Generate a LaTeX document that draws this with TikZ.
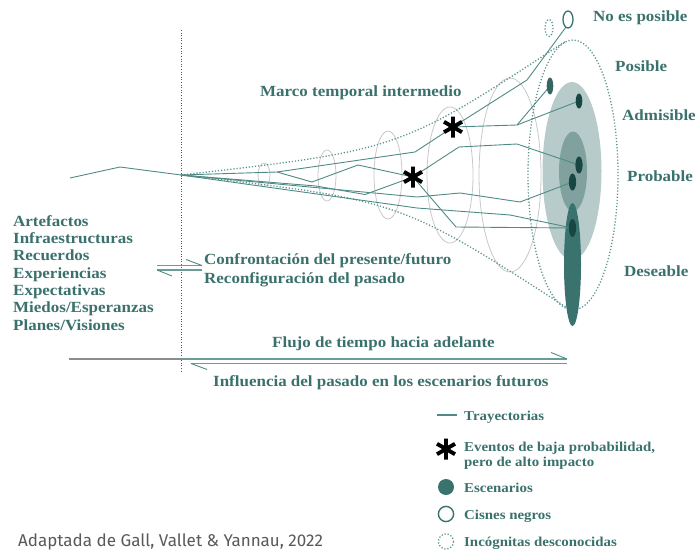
\documentclass[tikz,border=0pt]{standalone}
\usepackage{fontspec}
\setmainfont{Liberation Serif}
\newfontfamily\labfont[FakeStretch=1.095]{Liberation Serif}
\newfontfamily\srcfont{Fira Sans}
\usetikzlibrary{arrows.meta}
\definecolor{tealtext}{RGB}{58,113,109}
\definecolor{tealline}{RGB}{80,138,134}
\definecolor{tealdot}{RGB}{92,148,144}
\definecolor{lightfill}{RGB}{183,204,202}
\definecolor{midfill}{RGB}{128,161,158}
\definecolor{tealfill}{RGB}{58,114,110}
\definecolor{darkdot}{RGB}{24,70,66}
\definecolor{grayell}{RGB}{200,200,200}
\tikzset{
  lab/.style={text=tealtext, font=\labfont\bfseries\fontsize{15.5}{17.35}\selectfont, inner sep=0pt, anchor=base west, align=left},
  leg/.style={lab, font=\labfont\bfseries\fontsize{13.6}{15}\selectfont},
  traj/.style={draw=tealline, line width=0.9pt, line join=round},
  dotl/.style={draw=tealdot, line width=1.3pt, dash pattern=on 1.2pt off 1.9pt},
  vline/.style={draw=black!65, line width=0.7pt, dash pattern=on 1pt off 1.6pt},
  crosssec/.style={draw=grayell, line width=0.8pt},
  arrl/.style={draw=tealline!85, line width=1.4pt},
  barb/.style={draw=tealline, line width=0.9pt},
  astpic/.pic={\draw[line width=3.9pt, black] (0,-10.5)--(0,10.5) (-9,-5.2)--(9,5.2) (-9,5.2)--(9,-5.2);}
}
\begin{document}
\begin{tikzpicture}[x=1pt,y=-1pt]
\useasboundingbox (0,0) rectangle (696,551);

% present marker
\coordinate (vtop) at (181,30);
\coordinate (vbot) at (181,371);
\draw[vline] (vtop) -- (vbot);

% cross sections
\draw[crosssec] (264,175) ellipse [x radius=6, y radius=12];
\draw[crosssec] (327,175.5) ellipse [x radius=9, y radius=25.5];
\draw[crosssec] (388,175) ellipse [x radius=14, y radius=44];
\draw[crosssec] (450,175) ellipse [x radius=23, y radius=68];
\draw[crosssec] (510,175) ellipse [x radius=31, y radius=97];

% cone
\coordinate (o) at (181,175);
\coordinate (ctop) at (566,41);
\coordinate (cbot) at (569,309);
\draw[dotl] (o) .. controls (400,150) .. (ctop);
\draw[dotl] (o) .. controls (400,200) .. (cbot);
\draw[dotl] (573,175) ellipse [x radius=45, y radius=135];

% scenario zones
\fill[lightfill] (572,171) ellipse [x radius=29.5, y radius=89];
\fill[midfill] (573,171.5) ellipse [x radius=14, y radius=40];
\fill[tealfill] (572.5,264.5) ellipse [x radius=8.5, y radius=61.5];

% points
\coordinate (pA) at (70,178);
\coordinate (pB) at (120,167);
\coordinate (k1) at (277,172);
\coordinate (k2) at (415,152);
\coordinate (s1) at (453,127);
\coordinate (k3) at (527,80);
\coordinate (swan) at (566,27);
\coordinate (k4) at (517,125);
\coordinate (da) at (550,86);
\coordinate (db) at (579,101);
\coordinate (k5) at (312,182);
\coordinate (k6) at (358,165);
\coordinate (s2) at (413,177);
\coordinate (k7) at (316,186);
\coordinate (k8) at (365,194.5);
\coordinate (k9) at (459,147);
\coordinate (k10) at (517,144);
\coordinate (dc) at (579,165);
\coordinate (k11) at (456,227);
\coordinate (de) at (572.5,228);
\coordinate (k12) at (417,197);
\coordinate (k13) at (460,193);
\coordinate (k14) at (520,202);
\coordinate (dd) at (572.5,182);
\coordinate (k15) at (417,208);
\coordinate (k16) at (510,215);

% trajectories
\draw[traj] (pA) -- (pB) -- (o);
\draw[traj] (o) -- (k1) -- (k2) -- (s1) -- (k3) -- (swan);
\draw[traj] (s1) -- (k4) -- (da);
\draw[traj] (k4) -- (db);
\draw[traj] (k1) -- (k5) -- (k6) -- (s2);
\draw[traj] (o) -- (k7) -- (k8) -- (s2);
\draw[traj] (s2) -- (k9) -- (k10) -- (dc);
\draw[traj] (s2) -- (k11) -- (de);
\draw[traj] (o) -- (k12) -- (k13) -- (k14) -- (dd);
\draw[traj] (o) -- (k15) -- (k16) -- (de);

% scenarios
\fill[tealfill!90!black] (da) ellipse [x radius=3.3, y radius=8.5];
\fill[darkdot] (db) ellipse [x radius=3.3, y radius=7.5];
\fill[darkdot] (dc) ellipse [x radius=3.6, y radius=8.5];
\fill[darkdot] (dd) ellipse [x radius=3.6, y radius=8.5];
\fill[darkdot] (de) ellipse [x radius=3.6, y radius=9];

% black swan and unknown unknown
\draw[draw=tealfill, line width=1.3pt] (568,19.5) ellipse [x radius=5, y radius=8.5];
\draw[dotl] (549,28) ellipse [x radius=4, y radius=8.5];

% events
\pic at (s1) {astpic};
\pic at (s2) {astpic};

% labels
\node[lab] (noes) at (593,22) {No es posible};
\node[lab] (posible) at (615,71) {Posible};
\node[lab] (admis) at (622,120.7) {Admisible};
\node[lab] (prob) at (627,181.7) {Probable};
\node[lab] (des) at (624,276) {Deseable};
\node[lab] (marco) at (260,96.5) {Marco temporal intermedio};

\node[lab] (l1) at (13,226) {Artefactos};
\node[lab] (l2) at (13,243.35) {Infraestructuras};
\node[lab] (l3) at (13,260.7) {Recuerdos};
\node[lab] (l4) at (13,278.05) {Experiencias};
\node[lab] (l5) at (13,295.4) {Expectativas};
\node[lab] (l6) at (13,312.75) {Miedos/Esperanzas};
\node[lab] (l7) at (13,330.1) {Planes/Visiones};

\node[lab] (conf) at (204,264) {Confrontación del presente/futuro};
\node[lab] (reco) at (204,283.7) {Reconfiguración del pasado};

% confrontation harpoons
\coordinate (h1a) at (157,265.5);
\coordinate (h1b) at (202,265.5);
\coordinate (h1c) at (186,259.5);
\coordinate (h2a) at (202,270);
\coordinate (h2b) at (157,270);
\coordinate (h2c) at (172,276);
\draw[arrl] (h1a) -- (h1b);
\draw[barb] (h1b) -- (h1c);
\draw[arrl] (h2a) -- (h2b);
\draw[barb] (h2b) -- (h2c);

% time arrows
\node[lab] (flujo) at (272,347.3) {Flujo de tiempo hacia adelante};
\node[lab] (infl) at (213,386.7) {Influencia del pasado en los escenarios futuros};
\coordinate (f0) at (69,359);
\coordinate (f1) at (181,359);
\coordinate (f2) at (567,359);
\coordinate (f3) at (551,352.5);
\coordinate (g0) at (567,363.5);
\coordinate (g1) at (191,363.5);
\coordinate (g2) at (207,369.5);
\draw[draw=black!45, line width=1.4pt] (f0) -- (f1);
\draw[arrl] (f1) -- (f2);
\draw[barb] (f2) -- (f3);
\draw[arrl] (g0) -- (g1);
\draw[barb] (g1) -- (g2);

% legend
\coordinate (lg1a) at (437,415);
\coordinate (lg1b) at (457,415);
\draw[traj, line width=1.2pt] (lg1a) -- (lg1b);
\node[leg] (lt1) at (464,420) {Trayectorias};
\pic at (446,449) {astpic};
\node[leg] (lt2) at (464,451.7) {Eventos de baja probabilidad,};
\node[leg] (lt2b) at (464,466) {pero de alto impacto};
\fill[tealfill] (446,487) circle [radius=8];
\node[leg] (lt3) at (464,492.3) {Escenarios};
\draw[draw=tealfill, line width=1.4pt] (446,514) circle [radius=7.6];
\node[leg] (lt4) at (464,519.3) {Cisnes negros};
\draw[dotl] (446,541.5) circle [radius=7.6];
\node[leg] (lt5) at (464,546) {Incógnitas desconocidas};

% source
\node[text=black!65, font=\srcfont\fontsize{17}{20}\selectfont, inner sep=0pt, anchor=base west] (src) at (18,546) {Adaptada de Gall, Vallet \& Yannau, 2022};
\end{tikzpicture}
\end{document}
